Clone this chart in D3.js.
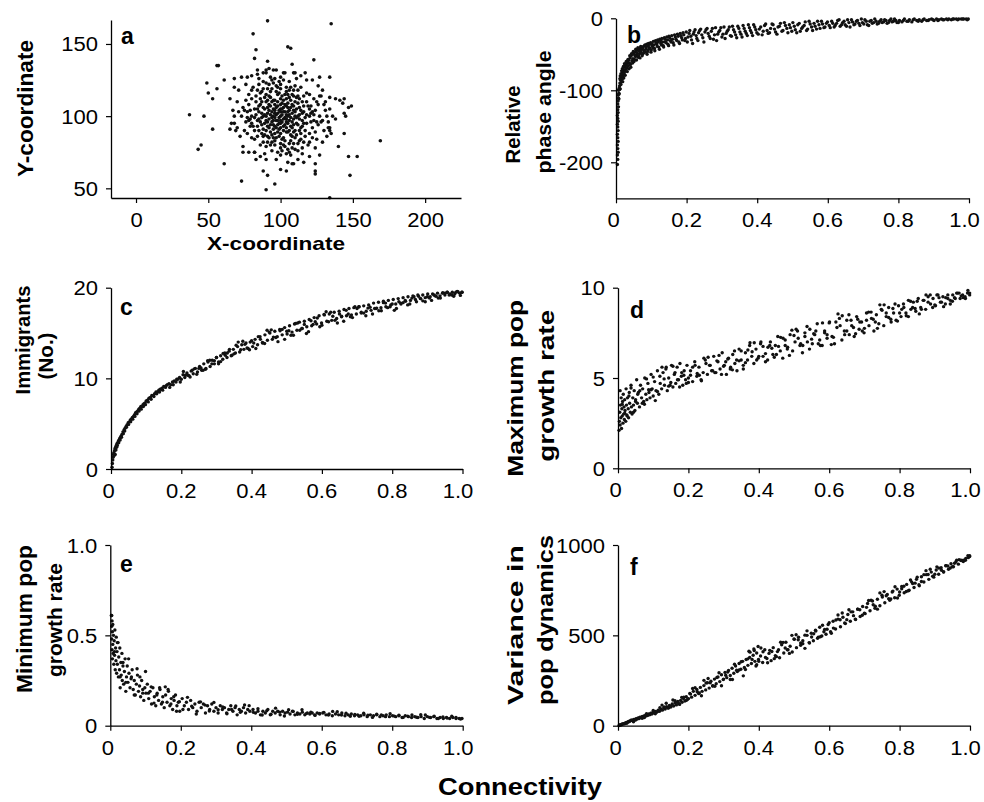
<!DOCTYPE html>
<html>
<head>
<meta charset="utf-8">
<script src="https://cdn.jsdelivr.net/npm/d3@7"></script>
<style>
  body { margin: 0; background: #fff; }
  svg text { font-family: "Liberation Sans", Arial, Helvetica, sans-serif; fill: #000; }
</style>
</head>
<body>
<svg id="fig" width="984" height="802"></svg>
<script>
// ---- Panel a: patch positions (x, y) ----
const positionXY = [
  [37,101],[47,100],[43,77],[45,80],[53,91],[56,135],[57,135],[49,123],[50,116],[53,112],[56,119],[61,125],[61,67],[73,55],[65,91],[68,95],
  [81,157],[83,146],[82,140],[91,166],[91,138],[90,130],[90,49],[96,53],[91,59],[88,62],[105,148],[107,147],[108,136],[109,130],[123,139],
  [135,164],[134,43.5],[134,127],[134,113],[138,112],[141,111],[144,112],[143,109],[147,106],[149,107],[144,102],[145,100],[144,88],[147,72],
  [153,72],[148,59],[169,83],[140,79],[134,92],[124,67],[124,62],[124,60],[127,127],[131,104],[134,90],[109,67],[104,62],[100,63],[82,75],
  [74,75],[68,120],[68,126],[77,127],[84,129],[90,132],[97,132],[102,130],
  [100,100],[98,102],[102,98],[97,97],[103,103],[99,95],[101,105],[95,100],[105,100],[96,104],[104,96],[100,97],[100,103],[94,96],[106,104],
  [93,101],[107,99],[98,107],[102,93],[96,93],[104,107],[92,98],[108,102],[99,99],[101,101],[97,101],[103,99],[95,97],[105,103],[98,94],
  [102,106],[94,103],[106,97],[100,92],[100,108],[91,102],[109,98],[96,108],[104,92],[93,94],[107,106],
  [88,100],[112,100],[100,88],[100,112],[90,90],[110,110],[90,110],[110,90],[85,103],[115,97],[97,85],[103,115],[87,94],[113,106],[94,87],
  [106,113],[86,108],[114,92],[92,114],[108,86],[89,105],[111,95],[95,111],[105,89],[84,97],[116,103],[101,84],[99,116],[91,86],[109,114],
  [86,112],[114,88],[88,91],[112,109],[93,117],[107,83],[83,101],[117,99],[96,83],[104,117],[90,97],[110,103],[98,89],[102,111],[85,90],
  [115,110],[92,108],[108,92],[89,113],[111,87],[87,99],[113,101],[95,91],[105,109],[91,106],[109,94],
  [80,100],[120,100],[100,78],[100,122],[78,108],[122,92],[82,90],[118,110],[84,118],[116,82],[92,122],[108,78],[76,96],[124,104],[94,76],
  [106,124],[80,85],[120,115],[83,114],[117,86],[88,124],[112,76],[75,104],[125,96],[79,93],[121,107],[86,80],[114,120],[96,126],[104,74],
  [81,120],[119,80],[77,88],[123,112],[90,79],[110,121],[73,100],[127,100],[100,73],[100,127],[85,122],[115,78],[78,115],[122,85],[94,125],
  [106,75],[82,105],[118,95],[88,82],[112,118],[76,111],[124,89],[93,80],[107,120],[80,112],[120,88],[87,117],[113,83],[97,121],[103,79],
  [79,98],[121,102],[84,86],[116,114],[91,119],[109,81],[77,103],[123,97],
  [70,110],[130,90],[72,86],[128,114],[88,130],[112,70],[68,100],[132,100],[76,122],[124,78],[95,132],[105,68],[66,95],[134,105],[80,128],
  [120,72],[71,118],[129,82],[90,70],[110,130],[74,79],[126,121],[84,132],[116,68],[69,90],[131,110],[97,70],[103,130],[78,75],[122,125],
  [65,112],[135,88],[86,72],[114,128],[73,127],[127,73],[92,133],[108,67],[67,104],[133,96],
  [128,96],[136,100],[126,108],[133,92],[129,118],[125,84],[138,98],[132,86],[127,114],
  [99,104],[101,96],[96,99],[104,101],[97,106],[103,94],[95,94],[105,106],[92,104],[108,96],[99,91],[101,109],[94,99],[106,101],[98,97],
  [102,103],[93,107],[107,93],[96,102],[104,98],[100,95],[100,105],[97,92],[103,108],[91,96],[109,104],[95,105],[105,95],[98,110],[102,90],
  [90,100],[110,100],[92,92],[108,108],[94,110],[106,90],[89,95],[111,105],[96,88],[104,112],[88,106],[112,94],[93,89],[107,111],[91,111],
  [109,89],[87,102],[113,98],[99,86],[101,114],[86,96],[114,104],[95,85],[105,115],[90,115],[110,85],[85,107],[115,93],[97,117],[103,83],
  [84,93],[116,107],[92,85],[108,115],[87,110],[113,90],[98,120],[102,80],[82,99],[118,101],[89,87],[111,113],[94,119],[106,81],[83,110],
  [117,90],[91,82],[109,118],[80,95],[120,105],[96,80],[104,120],[86,116],[114,84],[88,86],[112,114],[79,104],[121,96],[95,123],[105,77],
  [82,84],[118,116],[90,123],[110,77],[77,99],[123,101],[100,81],[100,119],[85,98],[115,102],[93,113],[107,87],[98,115],[102,85],[89,101],
  [111,99],[96,111],[104,89],[91,93],[109,107],[87,88],[113,112],[94,82],[106,118],[84,105],[116,95],[99,124],[101,76],[81,93],[119,107],
  [88,119],[112,81],[78,97],[122,103],[93,127],[107,73],[75,90],[125,110],[85,126],[115,74],[71,103],[129,97],[98,75],[102,125],[80,118],
  [120,82],[118,125],[82,75],[126,94],[74,106],[111,126],[89,74],[130,108],[70,92],[117,130],[83,70]
];

// ---- Panel b: relative phase angle vs connectivity ----
const phaseAngle = [
  [0.004,-203],[0.005,-196],[0.004,-190],[0.006,-186],[0.005,-181],[0.004,-176],[0.006,-171],[0.005,-166],[0.004,-161],[0.006,-156],
  [0.005,-151],[0.004,-147],[0.006,-143],[0.005,-139],[0.004,-135],[0.006,-131],[0.005,-127],[0.007,-123],[0.005,-119],[0.006,-115],
  [0.007,-111],[0.006,-107],[0.008,-104],[0.007,-100],[0.009,-97],
  [0.010,-94],[0.011,-90],[0.012,-98],[0.013,-86],[0.014,-92],[0.015,-82],[0.016,-88],[0.017,-78],[0.018,-84],[0.019,-75],[0.020,-80],
  [0.022,-72],[0.023,-77],[0.024,-68],[0.025,-74],[0.027,-66],[0.028,-71],[0.030,-63],[0.031,-69],[0.033,-61],
  [0.035,-66],[0.036,-58],[0.038,-62],[0.040,-55],[0.041,-64],[0.043,-52],[0.045,-59],[0.046,-50],[0.048,-56],[0.050,-48],[0.052,-57],
  [0.054,-47],[0.055,-53],[0.057,-45],[0.059,-51],[0.061,-44],[0.063,-54],[0.065,-43],[0.067,-49],[0.069,-41],[0.071,-47],[0.073,-40],
  [0.075,-50],[0.078,-39],[0.080,-45],[0.082,-37],[0.085,-43],[0.087,-36],[0.090,-46],[0.092,-35],[0.095,-41],[0.098,-34],[0.100,-44],
  [0.103,-38],[0.106,-32],[0.109,-42],[0.112,-31],[0.115,-36],[0.118,-30],[0.121,-40],[0.124,-29],[0.127,-35],[0.130,-28],[0.134,-38],
  [0.137,-27],[0.140,-33],[0.144,-26],[0.147,-36],[0.150,-25],[0.154,-31],[0.158,-24],[0.162,-34],[0.166,-23],[0.170,-29],[0.174,-22],
  [0.178,-33],[0.182,-21],[0.186,-27],[0.190,-20],[0.195,-31],[0.199,-19],
  [0.204,-26],[0.209,-17],[0.214,-30],[0.219,-22],[0.224,-16],[0.229,-28],[0.234,-20],[0.240,-15],[0.246,-27],[0.252,-19],[0.258,-14],
  [0.264,-25],[0.270,-18],[0.276,-29],[0.282,-13],[0.288,-22],[0.294,-17],[0.300,-26],[0.306,-12],[0.312,-21],[0.318,-16],[0.324,-24],
  [0.330,-11],[0.336,-19],[0.342,-27],[0.348,-14],[0.354,-22],[0.360,-10],[0.366,-18],[0.372,-24],[0.378,-13],[0.384,-20],[0.390,-9],
  [0.396,-16],
  [0.403,-22],[0.410,-12],[0.417,-18],[0.424,-8],[0.431,-21],[0.438,-14],[0.445,-9],[0.452,-19],[0.459,-12],[0.466,-7],[0.473,-17],
  [0.480,-10],[0.487,-20],[0.494,-13],[0.501,-6],[0.508,-16],[0.515,-9],[0.522,-18],[0.529,-12],[0.536,-5],[0.543,-15],[0.550,-8],
  [0.557,-17],[0.564,-11],[0.571,-4],[0.578,-14],[0.585,-8],[0.592,-12],[0.599,-5],
  [0.607,-13],[0.614,-7],[0.621,-10],[0.628,-3],[0.635,-11],[0.642,-6],[0.649,-9],[0.656,-2],[0.663,-12],[0.670,-5],[0.677,-8],[0.684,-3],
  [0.691,-10],[0.698,-6],[0.705,-2],[0.712,-9],[0.719,-4],[0.726,-7],[0.733,-1],[0.740,-8],[0.747,-4],[0.754,-6],[0.761,-2],[0.768,-7],
  [0.775,-3],[0.782,-5],[0.789,-1],[0.796,-6],
  [0.803,-3],[0.810,-5],[0.817,-1],[0.824,-4],[0.831,-2],[0.838,-5],[0.845,-1],[0.852,-3],[0.859,-2],[0.866,-4],[0.873,-1],[0.880,-3],
  [0.887,-2],[0.894,-1],[0.901,-3],[0.908,-1],[0.915,-2],[0.922,-1],[0.929,-2],[0.936,-1],[0.943,-1],[0.950,-2],[0.957,-1],[0.964,-1],
  [0.971,-1],[0.978,-1],[0.985,-1],[0.992,-1],[0.998,-1],
  [0.008,-112],[0.009,-105],[0.010,-99],[0.011,-84],[0.012,-80],[0.014,-77],[0.016,-73],[0.018,-70],[0.019,-88],[0.021,-67],[0.022,-83],
  [0.024,-63],[0.026,-79],[0.029,-60],[0.032,-74],[0.034,-57],[0.037,-70],[0.039,-52],[0.042,-68],[0.044,-49],[0.047,-62],[0.049,-46],
  [0.051,-60],[0.053,-51],[0.056,-43],[0.058,-58],[0.060,-48],[0.062,-41],[0.064,-52],[0.066,-45],[0.068,-55],[0.070,-39],[0.072,-44],
  [0.074,-52],[0.076,-42],[0.079,-48],[0.081,-38],[0.083,-47],[0.086,-40],[0.088,-50],[0.091,-38],[0.093,-43],[0.096,-36],[0.099,-47],
  [0.101,-35],[0.104,-41],[0.107,-37],[0.110,-45],[0.113,-34],[0.117,-39],[0.120,-33],[0.123,-43],[0.126,-31],[0.129,-37],[0.132,-33],
  [0.135,-40],[0.139,-29],[0.142,-34],[0.146,-30],[0.149,-38],[0.152,-27],[0.156,-33],[0.160,-29],[0.164,-37],[0.168,-26],[0.172,-31],
  [0.176,-25],[0.180,-35],[0.184,-24],[0.188,-30],[0.192,-23],[0.197,-28],
  [0.202,-33],[0.207,-21],[0.212,-25],[0.217,-35],[0.221,-19],[0.227,-24],[0.232,-31],[0.237,-17],[0.243,-23],[0.249,-33],[0.255,-16],
  [0.261,-21],[0.267,-28],[0.273,-14],[0.279,-23],[0.285,-31],[0.291,-19],[0.297,-13],[0.303,-22],[0.309,-28],[0.315,-18],[0.321,-12],
  [0.327,-25],[0.333,-16],[0.339,-23],[0.345,-11],[0.351,-19],[0.357,-26],[0.363,-14],[0.369,-21],[0.375,-9],[0.381,-17],[0.387,-24],
  [0.393,-12],[0.399,-20],[0.406,-15],[0.414,-23],[0.421,-10],[0.428,-17],[0.435,-20],[0.442,-8],[0.449,-15],[0.456,-22],[0.463,-11],
  [0.470,-18],[0.477,-6],[0.484,-14],[0.491,-9],[0.498,-18],[0.505,-11],[0.512,-20],[0.519,-7],[0.526,-14],[0.533,-10],[0.540,-17],
  [0.547,-4],[0.554,-12],[0.561,-7],[0.568,-15],[0.575,-9],[0.582,-4],[0.589,-13],[0.596,-7],
  [0.604,-10],[0.611,-4],[0.618,-12],[0.625,-7],[0.632,-2],[0.639,-9],[0.646,-4],[0.653,-11],[0.660,-6],[0.667,-2],[0.674,-9],[0.681,-4],
  [0.688,-7],[0.695,-1],[0.702,-8],[0.709,-4],[0.716,-10],[0.723,-3],[0.730,-6],[0.737,-4],[0.744,-7],[0.751,-2],[0.758,-5],[0.765,-3],
  [0.772,-6],[0.779,-1],[0.786,-4],[0.793,-3],[0.800,-6],[0.814,-3],[0.828,-4],[0.842,-2],[0.856,-4],[0.870,-2],[0.884,-3],[0.898,-2],
  [0.912,-3],[0.926,-2],[0.940,-2],[0.954,-1],[0.968,-2],[0.982,-1],[0.995,-2]
];

// ---- Panel c: immigrants (No.) vs connectivity ----
const immigrants = [
  [0.003,0.2],[0.004,0.6],[0.005,1.0],[0.006,1.3],[0.007,1.6],[0.008,1.8],[0.009,1.5],[0.010,2.0],[0.011,2.2],[0.013,2.4],[0.015,2.6],
  [0.017,2.8],[0.019,2.9],[0.021,3.1],[0.023,3.2],[0.025,3.4],[0.028,3.6],[0.031,3.8],[0.034,4.1],[0.037,4.3],[0.040,4.5],[0.043,4.7],
  [0.046,4.9],[0.049,5.1],[0.052,5.2],[0.055,5.4],[0.058,5.5],[0.061,5.7],[0.064,5.8],[0.067,6.0],[0.070,6.2],[0.073,6.3],[0.076,6.4],
  [0.079,6.6],[0.082,6.7],[0.085,6.9],[0.088,6.9],[0.091,7.1],[0.094,7.2],[0.097,7.3],[0.100,7.5],[0.104,7.6],[0.108,7.8],[0.112,7.9],
  [0.116,8.1],[0.120,8.1],[0.124,8.3],[0.128,8.5],[0.132,8.5],[0.136,8.7],[0.140,8.8],[0.145,8.9],[0.150,9.1],[0.155,9.0],[0.160,9.3],
  [0.165,9.4],[0.170,9.3],[0.175,9.6],[0.180,9.7],[0.185,9.6],[0.190,9.9],[0.195,10.1],[0.200,9.9],
  [0.012,1.6],[0.014,2.1],[0.016,2.4],[0.018,2.6],[0.022,2.9],[0.026,3.2],[0.030,3.5],[0.035,3.9],[0.039,4.2],[0.044,4.6],[0.050,4.9],
  [0.056,5.2],[0.062,5.5],[0.068,5.8],[0.074,6.1],[0.080,6.4],[0.086,6.6],[0.092,6.9],[0.098,7.1],[0.106,7.4],[0.114,7.7],[0.122,8.0],
  [0.130,8.3],[0.138,8.5],[0.147,8.7],[0.157,9.2],[0.167,9.0],[0.177,9.3],[0.187,9.9],[0.197,9.6],
  [0.205,10.4],[0.210,10.1],[0.216,10.6],[0.222,10.3],[0.228,10.8],[0.234,10.5],[0.240,11.1],[0.246,10.7],[0.252,11.3],[0.258,10.9],
  [0.264,11.6],[0.270,11.1],[0.276,11.8],[0.282,11.3],[0.288,12.0],[0.294,11.6],[0.300,12.3],[0.306,11.8],[0.312,12.5],[0.318,12.1],
  [0.324,12.8],[0.330,12.3],[0.336,13.0],[0.342,12.5],[0.348,13.2],[0.354,12.8],[0.360,13.5],[0.366,12.9],[0.372,13.7],[0.378,13.2],
  [0.384,13.9],[0.390,13.3],[0.396,14.0],
  [0.403,13.5],[0.410,14.3],[0.417,13.7],[0.424,14.6],[0.431,13.9],[0.438,14.8],[0.445,14.2],[0.452,15.0],[0.459,14.3],[0.466,15.2],
  [0.473,14.6],[0.480,15.4],[0.487,14.8],[0.494,15.6],[0.501,14.9],[0.508,15.8],[0.515,15.1],[0.522,16.0],[0.529,15.3],[0.536,16.2],
  [0.543,15.5],[0.550,16.3],[0.557,15.7],[0.564,16.5],[0.571,15.8],[0.578,16.7],[0.585,16.0],[0.592,16.9],[0.599,16.1],
  [0.607,17.0],[0.614,16.3],[0.621,17.1],[0.628,16.4],[0.635,17.3],[0.642,16.6],[0.649,17.4],[0.656,16.8],[0.663,17.6],[0.670,16.9],
  [0.677,17.7],[0.684,17.0],[0.691,17.8],[0.698,17.1],[0.705,17.9],[0.712,17.2],[0.719,18.0],[0.726,17.4],[0.733,18.1],[0.740,17.5],
  [0.747,18.3],[0.754,17.7],[0.761,18.4],[0.768,17.8],[0.775,18.5],[0.782,17.9],[0.789,18.6],[0.796,18.1],
  [0.803,18.7],[0.810,18.2],[0.817,18.8],[0.824,18.3],[0.831,18.9],[0.838,18.5],[0.845,19.0],[0.852,18.6],[0.859,19.1],[0.866,18.7],
  [0.873,19.2],[0.880,18.8],[0.887,19.2],[0.894,18.9],[0.901,19.3],[0.908,19.0],[0.915,19.3],[0.922,19.1],[0.929,19.4],[0.936,19.1],
  [0.943,19.4],[0.950,19.2],[0.957,19.5],[0.964,19.3],[0.971,19.5],[0.978,19.3],[0.985,19.6],[0.992,19.4],[0.998,19.5],
  [0.206,10.75],[0.219,10.35],[0.231,10.9],[0.244,10.45],[0.256,11.15],[0.269,11.0],[0.281,12.0],[0.294,11.95],[0.306,11.6],[0.319,12.75],
  [0.331,12.8],[0.344,12.55],[0.356,13.65],[0.369,13.15],[0.381,13.75],[0.394,13.15],[0.406,13.9],[0.419,14.6],[0.431,13.95],[0.444,15.3],
  [0.456,15.35],[0.469,14.5],[0.481,15.25],[0.494,14.3],[0.506,15.25],[0.519,14.75],[0.531,16.1],[0.544,15.5],[0.556,14.95],[0.569,16.35],
  [0.581,16.25],[0.594,15.7],[0.606,17.05],[0.619,16.25],[0.631,16.85],[0.644,16.1],[0.656,16.85],[0.669,17.5],[0.681,16.8],[0.694,17.9],
  [0.706,17.9],[0.719,17.2],[0.731,17.75],[0.744,17.1],[0.756,17.75],[0.769,17.45],[0.781,18.3],[0.794,17.9],[0.806,17.5],[0.819,18.45],
  [0.831,18.35],[0.844,18.1],[0.856,18.85],[0.869,18.45],[0.881,18.8],[0.894,18.45],[0.906,18.85],[0.919,19.2],[0.931,18.85],[0.944,19.45],
  [0.956,19.5],[0.969,19.2],[0.981,19.5],[0.994,19.15],
  [0.212,10.35],[0.225,10.15],[0.237,11.05],[0.250,11.1],[0.262,10.9],[0.275,11.95],[0.287,11.6],[0.300,12.3],[0.312,11.85],[0.325,12.55],
  [0.337,13.2],[0.350,12.7],[0.362,14.0],[0.375,14.1],[0.387,13.35],[0.400,14.15],[0.412,13.3],[0.425,14.3],[0.437,13.85],[0.450,15.1],
  [0.462,14.55],[0.475,14.05],[0.487,15.4],[0.500,15.2],[0.512,14.75],[0.525,16.05],[0.537,15.3],[0.550,15.95],[0.562,15.15],[0.575,15.95],
  [0.587,16.65],[0.600,15.85],[0.612,17.35],[0.625,17.3],[0.637,16.4],[0.650,17.1],[0.662,16.3],[0.675,17.1],[0.687,16.7],[0.700,17.7],
  [0.712,17.3],[0.725,16.9],[0.737,17.85],[0.750,17.7],[0.762,17.45],[0.775,18.35],[0.787,17.8],[0.800,18.2],[0.812,17.7],[0.825,18.2],
  [0.837,18.6],[0.850,18.2],[0.862,19.0],[0.875,19.05],[0.887,18.55],[0.900,19.0],[0.912,18.6],[0.925,19.05],[0.937,18.85],[0.950,19.4],
  [0.962,19.2],[0.975,19.05],[0.987,19.55],[0.999,19.5]
];

// ---- Panel d: maximum population growth rate vs connectivity ----
const maxGrowth = [
  [0.003,2.1],[0.004,2.6],[0.005,3.1],[0.006,2.4],[0.007,3.5],[0.008,2.8],[0.009,3.9],[0.010,2.2],[0.011,3.3],[0.012,2.9],[0.013,3.7],
  [0.014,2.5],[0.015,4.1],[0.016,3.0],[0.017,3.4],[0.018,2.7],[0.019,3.8],[0.020,3.2],[0.022,2.6],[0.023,4.4],[0.024,3.5],[0.026,2.9],
  [0.027,3.9],[0.029,3.3],[0.030,2.8],[0.032,4.2],[0.033,3.6],[0.035,3.1],[0.037,4.6],[0.038,3.4],[0.040,3.0],[0.042,3.9],[0.044,3.5],
  [0.046,4.3],[0.048,3.2],[0.050,3.8],
  [0.053,4.9],[0.055,3.6],[0.058,4.2],[0.061,3.4],[0.064,4.6],[0.067,3.9],[0.070,4.4],[0.073,3.7],[0.076,5.0],[0.079,4.1],[0.082,3.8],
  [0.085,4.7],[0.088,4.2],[0.091,3.9],[0.094,5.2],[0.097,4.4],[0.100,4.0],[0.104,4.8],[0.108,4.3],[0.112,5.4],[0.116,4.1],[0.120,4.7],
  [0.124,4.4],[0.128,5.3],[0.132,4.6],[0.136,5.5],[0.140,4.3],[0.144,5.0],[0.148,4.6],[0.152,5.7],[0.156,4.5],[0.160,5.2],[0.164,4.7],
  [0.168,5.6],[0.172,4.9],[0.176,5.8],[0.180,5.1],[0.184,4.6],[0.188,5.4],[0.192,4.9],[0.196,5.7],[0.200,5.0],
  [0.206,5.4],[0.212,4.8],[0.218,5.9],[0.224,5.1],[0.230,5.6],[0.236,4.9],[0.242,5.3],[0.248,6.0],[0.254,5.2],[0.260,5.7],[0.266,5.4],
  [0.272,6.2],[0.278,5.3],[0.284,5.9],[0.290,5.5],[0.296,6.4],[0.302,5.7],[0.308,5.2],[0.314,6.1],[0.320,5.6],[0.326,6.3],[0.332,5.8],
  [0.338,5.4],[0.344,6.6],[0.350,6.0],[0.356,5.7],[0.362,6.4],[0.368,6.0],[0.374,6.8],[0.380,6.2],[0.386,5.8],[0.392,6.6],[0.398,6.1],
  [0.405,6.9],[0.412,6.2],[0.419,5.9],[0.426,6.7],[0.433,7.0],[0.440,6.3],[0.447,6.8],[0.454,7.3],[0.461,6.5],[0.468,6.1],[0.475,7.1],
  [0.482,6.7],[0.489,7.4],[0.496,6.5],[0.503,7.0],[0.510,7.6],[0.517,6.8],[0.524,6.4],[0.531,7.3],[0.538,7.0],[0.545,7.7],[0.552,6.9],
  [0.559,7.4],[0.566,8.0],[0.573,7.1],[0.580,6.8],[0.587,7.6],[0.594,7.2],
  [0.601,8.1],[0.608,7.3],[0.615,6.9],[0.622,7.8],[0.629,8.3],[0.636,7.1],[0.643,7.6],[0.650,8.2],[0.657,7.4],[0.664,7.9],[0.671,7.3],
  [0.678,8.4],[0.685,7.7],[0.692,8.1],[0.699,7.5],[0.706,8.6],[0.713,7.9],[0.720,8.3],[0.727,7.6],[0.734,8.5],[0.741,8.0],[0.748,8.8],
  [0.755,7.9],[0.762,8.4],[0.769,8.9],[0.776,8.1],[0.783,8.6],[0.790,8.2],[0.797,9.0],
  [0.804,8.4],[0.811,9.1],[0.818,8.6],[0.825,9.3],[0.832,8.8],[0.839,9.2],[0.846,8.7],[0.853,9.4],[0.860,8.9],[0.867,9.3],[0.874,8.8],
  [0.881,9.5],[0.888,9.1],[0.895,9.4],[0.902,9.0],[0.909,9.6],[0.916,9.2],[0.923,9.5],[0.930,9.1],[0.937,9.6],[0.944,9.3],[0.951,9.6],
  [0.958,9.4],[0.965,9.7],[0.972,9.4],[0.979,9.6],[0.986,9.5],[0.993,9.7],[0.999,9.6],
  [0.006,4.3],[0.019,3.05],[0.031,4.0],[0.044,3.1],[0.056,4.1],[0.069,3.6],[0.081,4.95],[0.094,4.35],[0.106,3.75],[0.119,5.1],[0.131,4.95],
  [0.144,4.55],[0.156,5.65],[0.169,4.9],[0.181,5.3],[0.194,4.7],[0.206,5.15],[0.219,5.7],[0.231,5.15],[0.244,6.1],[0.256,6.15],[0.269,5.4],
  [0.281,5.95],[0.294,5.2],[0.306,5.9],[0.319,5.5],[0.331,6.5],[0.344,5.95],[0.356,5.5],[0.369,6.55],[0.381,6.45],[0.394,6.0],[0.406,7.0],
  [0.419,6.35],[0.431,6.8],[0.444,6.15],[0.456,6.75],[0.469,7.2],[0.481,6.6],[0.494,7.65],[0.506,7.7],[0.519,6.9],[0.531,7.5],[0.544,6.6],
  [0.556,7.45],[0.569,6.9],[0.581,8.05],[0.594,7.4],[0.606,6.85],[0.619,8.1],[0.631,7.9],[0.644,7.4],[0.656,8.5],[0.669,7.8],[0.681,8.25],
  [0.694,7.6],[0.706,8.2],[0.719,8.65],[0.731,8.1],[0.744,9.05],[0.756,9.05],[0.769,8.35],[0.781,8.85],[0.794,8.15],[0.806,8.8],[0.819,8.45],
  [0.831,9.25],[0.844,8.85],[0.856,8.55],[0.869,9.3],[0.881,9.2],[0.894,8.9],[0.906,9.6],[0.919,9.2],[0.931,9.45],[0.944,9.1],[0.956,9.45],
  [0.969,9.7],[0.981,9.45],[0.994,9.85],
  [0.012,3.55],[0.025,2.95],[0.037,4.45],[0.050,3.7],[0.062,4.3],[0.075,3.55],[0.087,4.35],[0.100,5.05],[0.112,4.25],[0.125,5.6],[0.137,5.6],
  [0.150,4.75],[0.162,5.3],[0.175,4.5],[0.187,5.15],[0.200,4.75],[0.212,5.6],[0.225,5.25],[0.237,4.85],[0.250,5.8],[0.262,5.7],[0.275,5.3],
  [0.287,6.25],[0.300,5.65],[0.312,6.05],[0.325,5.45],[0.337,6.0],[0.350,6.5],[0.362,5.85],[0.375,6.95],[0.387,6.95],[0.400,6.2],[0.412,6.75],
  [0.425,6.0],[0.437,6.65],[0.450,6.3],[0.462,7.25],[0.475,6.8],[0.487,6.25],[0.500,7.35],[0.512,7.2],[0.525,6.8],[0.537,7.85],[0.550,7.15],
  [0.562,7.6],[0.575,6.8],[0.587,7.5],[0.600,8.05],[0.612,7.25],[0.625,8.55],[0.637,8.45],[0.650,7.6],[0.662,8.2],[0.675,7.45],[0.687,8.1],
  [0.700,7.75],[0.712,8.65],[0.725,8.25],[0.737,7.75],[0.750,8.75],[0.762,8.6],[0.775,8.25],[0.787,9.1],[0.800,8.6],[0.812,8.9],[0.825,8.4],
  [0.837,8.9],[0.850,9.25],[0.862,8.8],[0.875,9.6],[0.887,9.6],[0.900,9.05],[0.912,9.45],[0.925,8.95],[0.937,9.4],[0.950,9.25],[0.962,9.7],
  [0.975,9.55],[0.987,9.4],[0.999,9.7]
];

// ---- Panel e: minimum population growth rate vs connectivity ----
const minGrowth = [
  [0.003,0.61],[0.004,0.55],[0.004,0.48],[0.005,0.58],[0.005,0.42],[0.006,0.52],[0.006,0.37],[0.007,0.45],[0.007,0.56],[0.008,0.40],
  [0.009,0.50],[0.010,0.34],[0.011,0.47],[0.012,0.39],[0.013,0.53],[0.014,0.31],[0.015,0.43],[0.016,0.36],[0.017,0.49],[0.018,0.29],
  [0.019,0.41],[0.020,0.34],[0.022,0.46],[0.023,0.27],[0.024,0.38],[0.026,0.31],[0.027,0.43],[0.028,0.21],[0.030,0.35],[0.031,0.28],
  [0.033,0.40],[0.034,0.25],[0.036,0.33],[0.038,0.23],[0.040,0.30],[0.042,0.37],[0.044,0.19],[0.046,0.27],[0.048,0.33],[0.050,0.24],
  [0.053,0.29],[0.056,0.21],[0.059,0.26],[0.062,0.31],[0.065,0.20],[0.068,0.25],[0.071,0.17],[0.074,0.23],[0.077,0.28],[0.080,0.19],
  [0.083,0.22],[0.086,0.16],[0.089,0.25],[0.092,0.20],[0.095,0.14],[0.098,0.21],[0.101,0.18],[0.105,0.23],[0.109,0.15],[0.113,0.19],
  [0.117,0.12],[0.121,0.21],[0.125,0.16],[0.129,0.11],[0.133,0.18],[0.137,0.14],[0.141,0.20],[0.145,0.12],[0.149,0.16],[0.153,0.10],
  [0.157,0.17],[0.161,0.13],[0.165,0.19],[0.169,0.11],[0.173,0.15],[0.177,0.09],[0.181,0.14],[0.185,0.17],[0.189,0.11],[0.193,0.13],
  [0.197,0.08],
  [0.204,0.15],[0.210,0.11],[0.216,0.13],[0.222,0.09],[0.228,0.14],[0.234,0.10],[0.240,0.12],[0.246,0.08],[0.252,0.13],[0.258,0.10],
  [0.264,0.12],[0.270,0.07],[0.276,0.11],[0.282,0.09],[0.288,0.12],[0.294,0.08],[0.300,0.10],[0.306,0.07],[0.312,0.11],[0.318,0.09],
  [0.324,0.10],[0.330,0.07],[0.336,0.09],[0.342,0.11],[0.348,0.08],[0.354,0.10],[0.360,0.06],[0.366,0.09],[0.372,0.08],[0.378,0.10],
  [0.384,0.07],[0.390,0.09],[0.396,0.08],
  [0.405,0.09],[0.412,0.07],[0.419,0.08],[0.426,0.06],[0.433,0.08],[0.440,0.07],[0.447,0.09],[0.454,0.06],[0.461,0.08],[0.468,0.07],
  [0.475,0.08],[0.482,0.06],[0.489,0.08],[0.496,0.07],[0.503,0.075],[0.510,0.065],[0.517,0.08],[0.524,0.06],[0.531,0.07],[0.538,0.065],
  [0.545,0.075],[0.552,0.06],[0.559,0.07],[0.566,0.065],[0.573,0.07],[0.580,0.06],[0.587,0.07],[0.594,0.065],
  [0.603,0.07],[0.612,0.06],[0.621,0.065],[0.630,0.055],[0.639,0.065],[0.648,0.06],[0.657,0.07],[0.666,0.055],[0.675,0.06],[0.684,0.065],
  [0.693,0.055],[0.702,0.06],[0.711,0.055],[0.720,0.06],[0.729,0.05],[0.738,0.06],[0.747,0.055],[0.756,0.06],[0.765,0.05],[0.774,0.055],
  [0.783,0.06],[0.792,0.05],[0.801,0.055],[0.810,0.05],[0.819,0.055],[0.828,0.045],[0.837,0.055],[0.846,0.05],[0.855,0.045],[0.864,0.05],
  [0.873,0.045],[0.882,0.05],[0.891,0.04],[0.900,0.05],[0.909,0.045],[0.918,0.05],[0.927,0.04],[0.936,0.045],[0.945,0.04],[0.954,0.045],
  [0.963,0.04],[0.972,0.045],[0.981,0.04],[0.990,0.04],[0.998,0.04],
  [0.004,0.61],[0.012,0.41],[0.020,0.46],[0.028,0.27],[0.036,0.35],[0.044,0.24],[0.052,0.37],[0.060,0.27],[0.068,0.17],[0.076,0.315],
  [0.084,0.27],[0.092,0.18],[0.100,0.30],[0.108,0.18],[0.116,0.215],[0.124,0.125],[0.132,0.17],[0.140,0.21],[0.148,0.13],[0.156,0.215],
  [0.164,0.20],[0.172,0.12],[0.180,0.16],[0.188,0.08],[0.196,0.133],
  [0.206,0.09],[0.219,0.157],[0.231,0.108],[0.244,0.065],[0.256,0.132],[0.269,0.114],[0.281,0.081],[0.294,0.129],[0.306,0.088],[0.319,0.104],
  [0.331,0.066],[0.344,0.09],[0.356,0.109],[0.369,0.074],[0.381,0.115],[0.394,0.111],[0.406,0.074],[0.419,0.094],[0.431,0.059],[0.444,0.083],
  [0.456,0.063],[0.469,0.097],[0.481,0.075],[0.494,0.054],[0.506,0.088],[0.519,0.079],[0.531,0.063],[0.544,0.088],[0.556,0.067],[0.569,0.075],
  [0.581,0.057],[0.594,0.068],[0.606,0.074],[0.619,0.059],[0.631,0.079],[0.644,0.077],[0.656,0.059],[0.669,0.069],[0.681,0.052],[0.694,0.062],
  [0.706,0.052],[0.719,0.069],[0.731,0.058],[0.744,0.046],[0.756,0.064],[0.769,0.06],[0.781,0.05],[0.794,0.066],[0.806,0.053],[0.819,0.058],
  [0.831,0.046],[0.844,0.053],[0.856,0.059],[0.869,0.047],[0.881,0.061],[0.894,0.059],[0.906,0.046],[0.919,0.052],[0.931,0.04],[0.944,0.048],
  [0.956,0.042],[0.969,0.052],[0.981,0.045],[0.994,0.037]
];

// ---- Panel f: variance in population dynamics vs connectivity ----
const variancePop = [
  [0.003,1],[0.006,3],[0.009,5],[0.012,8],[0.015,10],[0.018,13],[0.021,15],[0.024,18],[0.027,20],[0.030,23],[0.033,25],[0.036,28],
  [0.039,31],[0.042,30],[0.045,35],[0.048,33],[0.051,39],[0.054,37],[0.057,43],[0.060,40],[0.063,47],[0.066,44],[0.069,51],[0.072,48],
  [0.075,55],[0.078,52],[0.081,60],[0.084,56],[0.087,64],[0.090,61],[0.093,69],[0.096,65],[0.099,74],[0.102,70],[0.106,79],[0.110,75],
  [0.114,86],[0.118,80],[0.122,92],[0.126,86],[0.130,98],[0.134,92],[0.138,105],[0.142,97],[0.146,112],[0.150,103],[0.154,120],[0.158,109],
  [0.162,126],[0.166,115],[0.170,134],[0.174,122],[0.178,140],[0.182,130],[0.186,150],[0.190,137],[0.194,160],[0.198,146],
  [0.204,178],[0.209,158],[0.214,190],[0.219,168],[0.224,200],[0.229,178],[0.234,212],[0.239,190],[0.244,222],[0.249,198],[0.254,238],
  [0.259,208],[0.264,246],[0.269,220],[0.274,258],[0.279,232],[0.284,270],[0.289,244],[0.294,282],[0.299,255],[0.304,295],[0.309,266],
  [0.314,306],[0.319,278],[0.324,318],[0.329,290],[0.334,330],[0.339,300],[0.344,344],[0.349,312],[0.354,356],[0.359,322],[0.364,366],
  [0.369,334],[0.374,378],[0.379,344],[0.384,390],[0.389,356],[0.394,402],[0.399,366],[0.372,412],[0.386,425],[0.398,438],[0.392,330],
  [0.405,386],[0.411,350],[0.417,420],[0.423,372],[0.429,400],[0.435,360],[0.441,432],[0.447,388],[0.453,410],[0.459,376],[0.465,448],
  [0.471,402],[0.477,462],[0.483,420],[0.489,440],[0.495,408],[0.501,478],[0.507,432],[0.513,490],[0.519,445],[0.525,470],[0.531,428],
  [0.537,500],[0.543,460],[0.549,512],[0.555,470],[0.561,528],[0.567,484],[0.573,545],[0.579,496],[0.585,520],[0.591,506],[0.597,560],
  [0.604,520],[0.611,578],[0.618,535],[0.625,590],[0.632,548],[0.639,600],[0.646,565],[0.653,615],[0.660,578],[0.667,630],[0.674,590],
  [0.681,645],[0.688,604],[0.695,660],[0.702,620],[0.709,676],[0.716,636],[0.723,690],[0.730,650],[0.737,700],[0.744,664],[0.751,712],
  [0.758,680],[0.765,726],[0.772,694],[0.779,740],[0.786,708],[0.793,756],[0.799,722],
  [0.806,770],[0.813,736],[0.820,782],[0.827,750],[0.834,796],[0.841,765],[0.848,810],[0.855,780],[0.862,824],[0.869,795],[0.876,836],
  [0.883,810],[0.890,850],[0.897,822],[0.904,862],[0.911,838],[0.918,874],[0.925,852],[0.932,886],[0.939,866],[0.946,896],[0.953,880],
  [0.960,906],[0.967,894],[0.974,916],[0.981,908],[0.988,926],[0.995,930],[0.999,936],
  [0.006,6],[0.019,11],[0.031,22],[0.044,22],[0.056,39],[0.069,41],[0.081,67],[0.094,68],[0.106,66],[0.119,99],[0.131,104],[0.144,99],
  [0.156,142],[0.169,129],[0.181,157],[0.194,140],[0.206,175],[0.219,210],[0.231,181],[0.244,251],[0.256,261],[0.269,221],[0.281,267],
  [0.294,221],[0.306,279],[0.319,256],[0.331,340],[0.344,308],[0.356,276],[0.369,370],[0.381,367],[0.394,337],[0.406,430],[0.419,378],
  [0.431,417],[0.444,371],[0.456,420],[0.469,461],[0.481,420],[0.494,500],[0.506,503],[0.519,458],[0.531,501],[0.544,458],[0.556,509],
  [0.569,490],[0.581,556],[0.594,534],[0.606,512],[0.619,585],[0.631,586],[0.644,569],[0.656,642],[0.669,609],[0.681,645],[0.694,611],
  [0.706,655],[0.719,694],[0.731,661],[0.744,735],[0.756,742],[0.769,703],[0.781,745],[0.794,707],[0.806,758],[0.819,743],[0.831,807],
  [0.844,789],[0.856,774],[0.869,836],[0.881,837],[0.894,827],[0.906,879],[0.919,860],[0.931,885],[0.944,873],[0.956,899],[0.969,919],
  [0.981,916],[0.994,941],
  [0.012,9],[0.025,13],[0.037,30],[0.050,31],[0.062,46],[0.075,45],[0.087,64],[0.100,84],[0.112,78],[0.125,114],[0.137,124],[0.150,108],
  [0.162,138],[0.175,118],[0.187,158],[0.200,150],[0.212,206],[0.225,188],[0.237,166],[0.250,236],[0.262,237],[0.275,218],[0.287,293],
  [0.300,258],[0.312,297],[0.325,256],[0.337,307],[0.350,354],[0.362,311],[0.375,407],[0.387,416],[0.400,356],[0.412,409],[0.425,348],
  [0.437,411],[0.450,382],[0.462,462],[0.475,430],[0.487,400],[0.500,480],[0.512,476],[0.525,454],[0.537,525],[0.550,491],[0.562,524],
  [0.575,492],[0.587,533],[0.600,570],[0.612,540],[0.625,613],[0.637,624],[0.650,587],[0.662,630],[0.675,588],[0.687,642],[0.700,622],
  [0.712,693],[0.725,669],[0.737,645],[0.750,722],[0.762,719],[0.775,701],[0.787,769],[0.800,740],[0.812,772],[0.825,747],[0.837,787],
  [0.850,822],[0.862,798],[0.875,858],[0.887,866],[0.900,838],[0.912,872],[0.925,850],[0.937,884],[0.950,880],[0.962,916],[0.975,914],
  [0.987,916],[0.999,941]
];

// ---- Tick values ----
const connectivityTicks = [0, 0.2, 0.4, 0.6, 0.8, 1.0];
const coordXTicks = [0, 50, 100, 150, 200];
const coordYTicks = [50, 100, 150];
const phaseTicks = [0, -100, -200];
const immigrantTicks = [0, 10, 20];
const maxGrowthTicks = [0, 5, 10];
const minGrowthTicks = [0, 0.5, 1.0];
const varianceTicks = [0, 500, 1000];

const fmtConn = d => (d === 0 ? "0" : d.toFixed(1));
const fmtInt = d => String(d);

// ---- Panel layout ----
const panels = [
  { key: "a", data: positionXY, r: 1.8, conn: false,
    xr: [111, 461], yr: [198, 20], xd: [-17.3, 224.8], yd: [43.3, 166.6],
    xt: coordXTicks, yt: coordYTicks, xf: fmtInt, yf: fmtInt,
    tag: [121, 44],
    ylab: [{ t: "Y-coordinate", x: 33, y: 108.5, len: 137, fs: 21.5 }] },
  { key: "b", data: phaseAngle, r: 1.7, conn: true,
    xr: [616, 969], yr: [198.3, 18.3], xd: [0, 1], yd: [-250, 0],
    xt: connectivityTicks, yt: phaseTicks, xf: fmtConn, yf: fmtInt,
    tag: [627, 43],
    ylab: [{ t: "Relative", x: 520, y: 124.5, len: 78, fs: 21 }, { t: "phase angle", x: 551, y: 112, len: 123, fs: 21 }] },
  { key: "c", data: immigrants, r: 1.7, conn: true,
    xr: [111, 462.5], yr: [469, 287.7], xd: [0, 1], yd: [0, 20],
    xt: connectivityTicks, yt: immigrantTicks, xf: fmtConn, yf: fmtInt,
    tag: [120, 315],
    ylab: [{ t: "Immigrants", x: 30, y: 340, len: 109, fs: 21 }, { t: "(No.)", x: 52.5, y: 356, len: 47, fs: 21 }] },
  { key: "d", data: maxGrowth, r: 1.7, conn: true,
    xr: [618, 970], yr: [468.3, 287.7], xd: [0, 1], yd: [0, 10],
    xt: connectivityTicks, yt: maxGrowthTicks, xf: fmtConn, yf: fmtInt,
    tag: [630, 318],
    ylab: [{ t: "Maximum pop", x: 523, y: 388.3, len: 177, fs: 21.5 }, { t: "growth rate", x: 554, y: 385.8, len: 152, fs: 21.5 }] },
  { key: "e", data: minGrowth, r: 1.7, conn: true,
    xr: [110.3, 462.7], yr: [725.7, 545], xd: [0, 1], yd: [0, 1],
    xt: connectivityTicks, yt: minGrowthTicks, xf: fmtConn, yf: fmtConn,
    tag: [120, 572],
    ylab: [{ t: "Minimum pop", x: 31.5, y: 619, len: 148, fs: 21.5 }, { t: "growth rate", x: 62, y: 620, len: 114, fs: 21 }] },
  { key: "f", data: variancePop, r: 1.7, conn: true,
    xr: [618, 970], yr: [725.7, 545], xd: [0, 1], yd: [0, 1000],
    xt: connectivityTicks, yt: varianceTicks, xf: fmtConn, yf: fmtInt,
    tag: [630, 575],
    ylab: [{ t: "Variance in", x: 523, y: 625, len: 160, fs: 21.5 }, { t: "pop dynamics", x: 553, y: 620, len: 170, fs: 21.5 }] }
];

const svg = d3.select("#fig");
const TICK_FONT = 19.5;
const SX = 1.13;   // horizontal widening of the tick numerals

// Fit a title to its target length: stretch when short, shrink the font when long.
function fitLength(sel, fs, len) {
  const natural = sel.node().getComputedTextLength();
  if (natural > len) {
    sel.attr("font-size", fs * len / natural);
  } else {
    sel.attr("textLength", len).attr("lengthAdjust", "spacingAndGlyphs");
  }
}

panels.forEach(p => {
  const x = d3.scaleLinear().domain(p.xd).range(p.xr);
  const y = d3.scaleLinear().domain(p.yd).range(p.yr);
  const g = svg.append("g").attr("class", "panel-" + p.key);

  // points
  g.append("g").selectAll("circle")
    .data(p.data)
    .join("circle")
    .attr("cx", d => x(d[0]))
    .attr("cy", d => y(d[1]))
    .attr("r", p.r)
    .attr("fill", "#111");

  // x axis
  const gx = g.append("g")
    .attr("transform", `translate(0,${p.yr[0]})`)
    .call(d3.axisBottom(x).tickValues(p.xt).tickFormat(p.xf).tickSize(5).tickSizeOuter(0));
  gx.selectAll("text")
    .attr("y", 29).attr("dy", null)
    .attr("x", d => (p.conn ? (d === 0 ? -3 : d === 1 ? -5 : -0.5) : 0) / SX)
    .attr("font-size", TICK_FONT)
    .attr("transform", `scale(${SX},1)`);

  // y axis
  const gy = g.append("g")
    .attr("transform", `translate(${p.xr[0]},0)`)
    .call(d3.axisLeft(y).tickValues(p.yt).tickFormat(p.yf).tickSize(5).tickSizeOuter(0));
  gy.selectAll("text")
    .attr("x", -13 / SX).attr("dy", "0.36em")
    .attr("font-size", TICK_FONT)
    .attr("transform", `scale(${SX},1)`);

  [gx, gy].forEach(ax => {
    ax.attr("font-family", null);
    ax.select(".domain").attr("stroke", "#000").attr("stroke-width", 1.3);
    ax.selectAll(".tick line").attr("stroke", "#000").attr("stroke-width", 1.2);
    ax.selectAll("text").attr("fill", "#000");
  });

  // panel letter
  g.append("text")
    .attr("x", p.tag[0]).attr("y", p.tag[1])
    .attr("font-size", 23).attr("font-weight", "bold")
    .text(p.key);

  // y-axis title lines (rotated)
  p.ylab.forEach(l => {
    const t = g.append("text")
      .attr("transform", `translate(${l.x},${l.y}) rotate(-90)`)
      .attr("text-anchor", "middle")
      .attr("font-size", l.fs).attr("font-weight", "bold")
      .text(l.t);
    fitLength(t, l.fs, l.len);
  });
});

// x-axis title of panel a
const xTitle = svg.append("text")
  .attr("x", 276).attr("y", 250)
  .attr("text-anchor", "middle")
  .attr("font-size", 19).attr("font-weight", "bold")
  .text("X-coordinate");
fitLength(xTitle, 19, 138);

// shared x-axis title
const connTitle = svg.append("text")
  .attr("x", 520).attr("y", 795)
  .attr("text-anchor", "middle")
  .attr("font-size", 24.5).attr("font-weight", "bold")
  .text("Connectivity");
fitLength(connTitle, 24.5, 164);
</script>
</body>
</html>
